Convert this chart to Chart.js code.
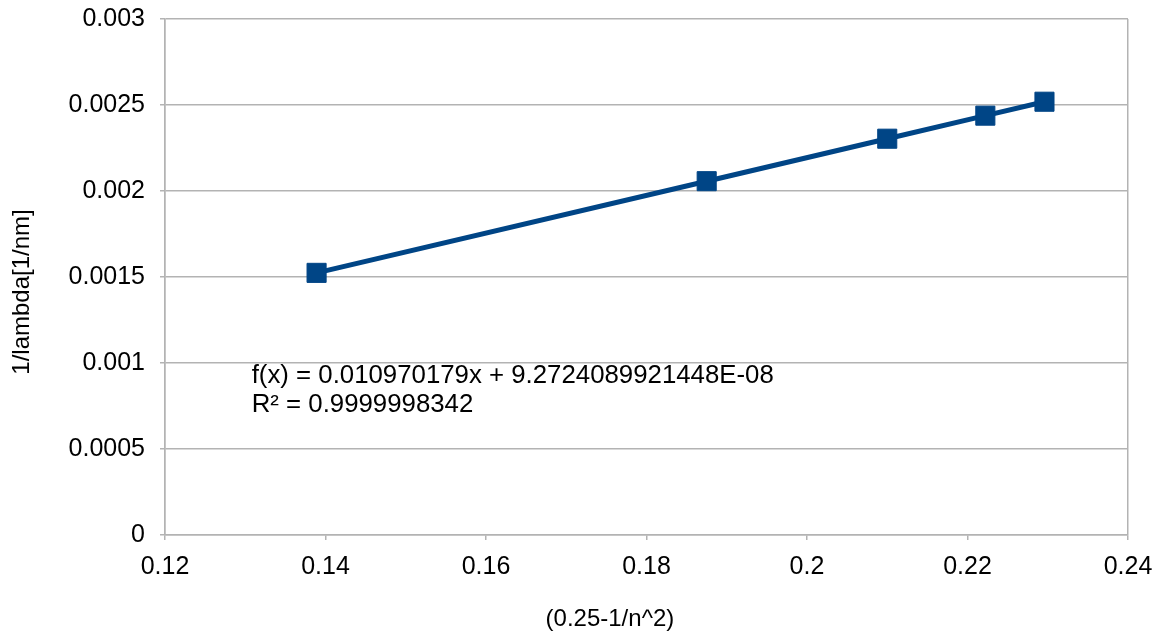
<!DOCTYPE html>
<html>
<head>
<meta charset="utf-8">
<script src="https://cdn.jsdelivr.net/npm/chart.js@4/dist/chart.umd.min.js"></script>
<style>
  html, body { margin: 0; padding: 0; background: #fff; }
  #wrap { position: relative; width: 1159px; height: 634px; }
</style>
</head>
<body>
<div id="wrap"><canvas id="c" width="1159" height="634"></canvas></div>
<script>
// ---- data ----
const xValues = [0.138889, 0.1875, 0.21, 0.222222, 0.229592];
const yValues = [0.001524, 0.002057, 0.002304, 0.002438, 0.002519];
const xTickLabels = ['0.12', '0.14', '0.16', '0.18', '0.2', '0.22', '0.24'];
const yTickLabels = ['0', '0.0005', '0.001', '0.0015', '0.002', '0.0025', '0.003'];
const xTitle = '(0.25-1/n^2)';
const yTitle = '1/lambda[1/nm]';
const trendLines = ['f(x) = 0.010970179x + 9.2724089921448E-08', 'R\u00B2 = 0.9999998342'];

const FONT = "'Liberation Sans', Arial, sans-serif";
const GRID = '#b3b3b3';
const BLUE = '#004586';

const points = xValues.map((x, i) => ({ x: x, y: yValues[i] }));

const textPlugin = {
  id: 'texts',
  afterDraw(chart) {
    const ctx = chart.ctx;
    const xs = chart.scales.x, ys = chart.scales.y;
    const ca = chart.chartArea;
    ctx.save();
    ctx.fillStyle = '#000';
    // trendline equation
    ctx.font = '25.8px ' + FONT;
    ctx.textAlign = 'left';
    ctx.textBaseline = 'alphabetic';
    const tx = xs.getPixelForValue(0.1308);
    ctx.fillText(trendLines[0], tx, ys.getPixelForValue(0.000882));
    ctx.fillText(trendLines[1], tx, ys.getPixelForValue(0.000714));
    // axis titles
    ctx.font = '24px ' + FONT;
    ctx.textAlign = 'center';
    ctx.textBaseline = 'middle';
    ctx.fillText(xTitle, ca.left + (ca.right - ca.left) * 0.462, 619);
    ctx.translate(22, ca.top + (ca.bottom - ca.top) * 0.529);
    ctx.rotate(-Math.PI / 2);
    ctx.fillText(yTitle, 0, 0);
    ctx.restore();
  }
};

new Chart(document.getElementById('c'), {
  type: 'scatter',
  data: {
    datasets: [{
      data: points,
      showLine: true,
      borderColor: BLUE,
      backgroundColor: BLUE,
      borderWidth: 5,
      pointStyle: 'rect',
      pointRadius: 13.5,
      pointHoverRadius: 13.5,
      pointBorderWidth: 1,
      pointBorderColor: BLUE,
      pointBackgroundColor: BLUE
    }]
  },
  options: {
    responsive: false,
    animation: false,
    events: [],
    layout: { padding: { left: 0, top: 19, right: 31, bottom: 0 } },
    plugins: { legend: { display: false }, tooltip: { enabled: false } },
    scales: {
      x: {
        type: 'linear',
        min: 0.12, max: 0.24,
        afterBuildTicks(scale) {
          scale.ticks = xTickLabels.map(v => ({ value: parseFloat(v) }));
        },
        afterFit(scale) {
          scale.height = 99;
          scale.paddingLeft = 0; scale.paddingRight = 0;
          scale.paddingTop = 0; scale.paddingBottom = 0;
        },
        ticks: {
          callback: (v, i) => xTickLabels[i],
          font: { family: FONT, size: 25 },
          color: '#000',
          padding: 12,
          maxRotation: 0,
          autoSkip: false
        },
        grid: {
          color: (c) => (c.index === 0 || c.index === xTickLabels.length - 1) ? GRID : 'rgba(0,0,0,0)',
          tickColor: GRID,
          lineWidth: 1.5,
          tickLength: 5
        },
        border: { display: true, color: GRID, width: 1.5 }
      },
      y: {
        type: 'linear',
        min: 0, max: 0.003,
        afterBuildTicks(scale) {
          scale.ticks = yTickLabels.map(v => ({ value: parseFloat(v) }));
        },
        afterFit(scale) {
          scale.width = 165;
          scale.paddingLeft = 0; scale.paddingRight = 0;
          scale.paddingTop = 0; scale.paddingBottom = 0;
        },
        ticks: {
          callback: (v, i) => yTickLabels[i],
          font: { family: FONT, size: 25 },
          color: '#000',
          padding: 15,
          autoSkip: false
        },
        grid: {
          color: GRID,
          tickColor: GRID,
          lineWidth: 1.5,
          tickLength: 5
        },
        border: { display: true, color: GRID, width: 1.5 }
      }
    }
  },
  plugins: [textPlugin]
});
</script>
</body>
</html>
